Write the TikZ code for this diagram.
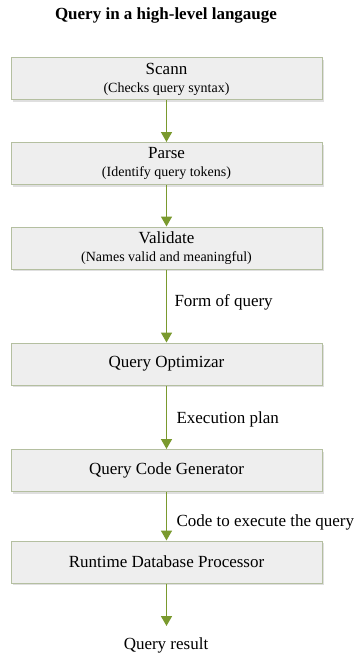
\documentclass[tikz,border=0pt]{standalone}
\usepackage{fontspec}
\setmainfont{Liberation Serif}
\usepackage{xcolor}
\usetikzlibrary{arrows.meta,shadows}
\definecolor{boxfill}{HTML}{EEEEEE}
\definecolor{boxline}{HTML}{B4BFA0}
\definecolor{olive}{HTML}{7A9A2E}

\tikzset{
  stagebox/.style={draw=boxline, line width=1pt, fill=boxfill, minimum width=311pt,
    minimum height=42pt, align=center, inner sep=0pt,
    drop shadow={shadow xshift=1.5pt, shadow yshift=-2pt, opacity=0.25},
    font=\fontsize{17}{19}\selectfont},
  flow/.style={draw=olive, line width=1.6pt, -{Triangle[width=11pt,length=10pt]}},
  flowlabel/.style={anchor=west, font=\fontsize{17}{19}\selectfont},
}
\newcommand{\subnote}[1]{\\[-1pt]{\fontsize{14}{16}\selectfont #1}}

\begin{document}
\begin{tikzpicture}[x=1pt,y=1pt]
\useasboundingbox (0,0) rectangle (355,-658);

% Title on top
\node[font=\bfseries\fontsize{17}{19}\selectfont] (title) at (166,-15) {Query in a high-level langauge};

% The stages of query processing
\node[stagebox] (scan) at (166.5,-79) {Scann\subnote{(Checks query syntax)}};
\node[stagebox] (parse) at (166.5,-163.5) {Parse\subnote{(Identify query tokens)}};
\node[stagebox] (validate) at (166.5,-248) {Validate\subnote{(Names valid and meaningful)}};
\node[stagebox] (optimizer) at (166.5,-364) {Query Optimizar};
\node[stagebox] (codegen) at (166.5,-470.5) {Query Code Generator};
\node[stagebox] (runtime) at (166.5,-562) {Runtime Database Processor};
\node[font=\fontsize{17}{19}\selectfont] (result) at (166,-645) {Query result};
\coordinate (resultin) at (166.5,-626);

% Arrows between the stages
\draw[flow] (scan) -- (parse);
\draw[flow] (parse) -- (validate);
\draw[flow] (validate) -- (optimizer);
\draw[flow] (optimizer) -- (codegen);
\draw[flow] (codegen) -- (runtime);
\draw[flow] (runtime) -- (resultin);

% Labels next to the arrows
\node[flowlabel] (formlabel) at (171,-302) {Form of query};
\node[flowlabel] (planlabel) at (173,-419) {Execution plan};
\node[flowlabel] (codelabel) at (173,-522) {Code to execute the query};
\end{tikzpicture}
\end{document}
